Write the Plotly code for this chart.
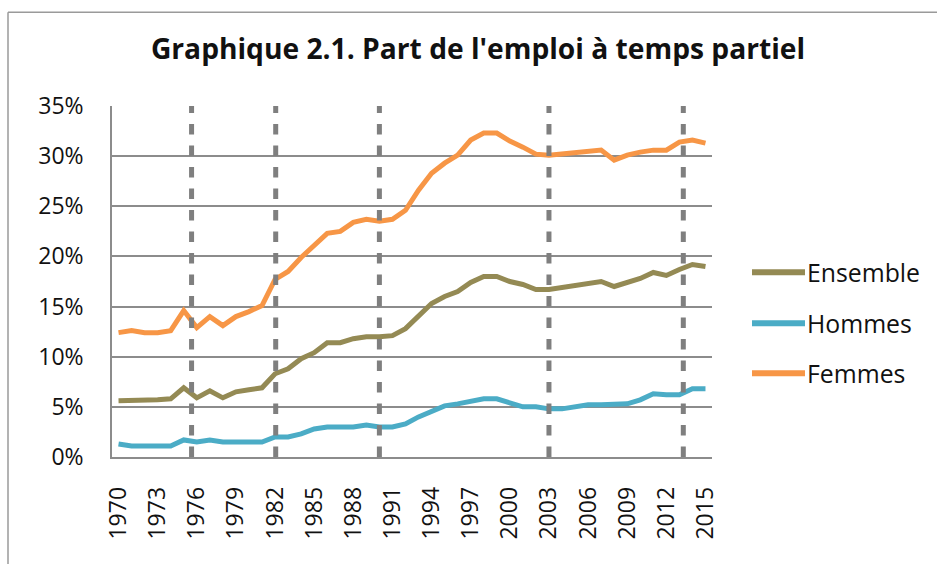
import plotly.graph_objects as go

years = list(range(1970, 2016))

ensemble = [5.6, 5.6, 5.6, 5.7, 5.8, 6.9, 5.9, 6.6, 5.9, 6.5,
            6.7, 6.9, 8.3, 8.8, 9.8, 10.4, 11.4, 11.4, 11.8, 12.0,
            12.0, 12.1, 12.8, 14.1, 15.3, 16.0, 16.5, 17.4, 18.0, 18.0,
            17.5, 17.2, 16.7, 16.7, 16.9, 17.1, 17.3, 17.5, 17.0, 17.4,
            17.8, 18.4, 18.1, 18.7, 19.2, 19.0]

hommes = [1.3, 1.1, 1.1, 1.1, 1.1, 1.7, 1.5, 1.7, 1.5, 1.5,
          1.5, 1.5, 2.0, 2.0, 2.3, 2.8, 3.0, 3.0, 3.0, 3.2,
          3.0, 3.0, 3.3, 4.0, 4.6, 5.1, 5.3, 5.6, 5.8, 5.8,
          5.4, 5.0, 5.0, 4.8, 4.8, 5.0, 5.2, 5.2, 5.2, 5.3,
          5.7, 6.3, 6.2, 6.2, 6.8, 6.8]

femmes = [12.4, 12.6, 12.4, 12.4, 12.6, 14.6, 12.9, 14.0, 13.1, 14.0,
          14.5, 15.1, 17.7, 18.5, 19.9, 21.1, 22.3, 22.5, 23.4, 23.7,
          23.5, 23.7, 24.6, 26.6, 28.3, 29.3, 30.1, 31.6, 32.3, 32.3,
          31.5, 30.9, 30.2, 30.1, 30.2, 30.3, 30.5, 30.6, 29.6, 30.1,
          30.4, 30.6, 30.6, 31.4, 31.6, 31.3]

series_names = ["Ensemble", "Hommes", "Femmes"]
series_colors = ["#948A54", "#4BACC6", "#F79646"]

x_tick_years = [1970, 1973, 1976, 1979, 1982, 1985, 1988, 1991, 1994,
                1997, 2000, 2003, 2006, 2009, 2012, 2015]
y_ticks = [0, 5, 10, 15, 20, 25, 30, 35]
y_tick_labels = ["0%", "5%", "10%", "15%", "20%", "25%", "30%", "35%"]

# vertical dashed markers (years)
break_years = [1975.6, 1982.05, 1990.0, 2003.0, 2013.3]

title_text = "Graphique 2.1. Part de l'emploi à temps partiel"

FONT = "Open Sans"

fig = go.Figure()
for name, vals, col in zip(series_names, [ensemble, hommes, femmes], series_colors):
    fig.add_trace(go.Scatter(x=years, y=vals, mode="lines", name=name,
                             line=dict(color=col, width=5),
                             showlegend=False))

shapes = []
for by in break_years:
    shapes.append(dict(type="line", xref="x", yref="y", x0=by, x1=by, y0=0, y1=35,
                       line=dict(color="#7F7F7F", width=5, dash="10.5px,11px"),
                       layer="above"))

# outer frame (top and left edges)
L, R, T, B = 112, 712, 105.7, 456.7
W, H = R - L, B - T
def px_x(px):
    return (px - L) / W
def px_y(py):
    return (B - py) / H

shapes.append(dict(type="line", xref="paper", yref="paper",
                   x0=px_x(8), x1=px_x(940), y0=px_y(12), y1=px_y(12),
                   line=dict(color="#9A9A9A", width=1.5)))
shapes.append(dict(type="line", xref="paper", yref="paper",
                   x0=px_x(8), x1=px_x(8), y0=px_y(12), y1=px_y(570),
                   line=dict(color="#9A9A9A", width=1.5)))

annotations = []
legend_y = [272, 323, 373]
for name, col, ly in zip(series_names, series_colors, legend_y):
    shapes.append(dict(type="line", xref="paper", yref="paper",
                       x0=px_x(752), x1=px_x(805), y0=px_y(ly), y1=px_y(ly),
                       line=dict(color=col, width=6)))
    annotations.append(dict(xref="paper", yref="paper", x=px_x(806), y=px_y(ly),
                            text=name, showarrow=False, xanchor="left", yanchor="middle",
                            borderpad=0,
                            font=dict(family=FONT, size=24.8, color="#111111")))

fig.update_layout(
    width=937, height=564,
    margin=dict(l=L, r=937 - R, t=T, b=564 - B, pad=0, autoexpand=False),
    paper_bgcolor="white", plot_bgcolor="white",
    title=dict(text=title_text, x=478 / 937, xref="container", xanchor="center",
               y=1 - 49 / 564, yref="container", yanchor="middle",
               font=dict(family=FONT, size=28.2, color="#111111", weight="bold")),
    shapes=shapes,
    annotations=annotations,
    showlegend=False,
)

fig.update_xaxes(range=[1969.5, 2015.5], tickvals=x_tick_years,
                 ticktext=[str(v) for v in x_tick_years], tickangle=-90,
                 showgrid=False, zeroline=False, showline=True, linecolor="#8C8C8C",
                 linewidth=1.5, ticks="", ticklabelstandoff=19, automargin=False,
                 tickfont=dict(family=FONT, size=23, color="#111111"))
fig.update_yaxes(range=[0, 35], tickvals=y_ticks, ticktext=y_tick_labels,
                 showgrid=True, gridcolor="#8C8C8C", gridwidth=1.5,
                 zeroline=False, showline=True, linecolor="#8C8C8C", linewidth=1.5,
                 ticks="", ticklabelstandoff=22, automargin=False,
                 tickfont=dict(family=FONT, size=23, color="#111111"))

fig.write_html("out.html", config={"displayModeBar": False},
               post_script="document.body.style.margin='0';document.body.style.padding='0';")
